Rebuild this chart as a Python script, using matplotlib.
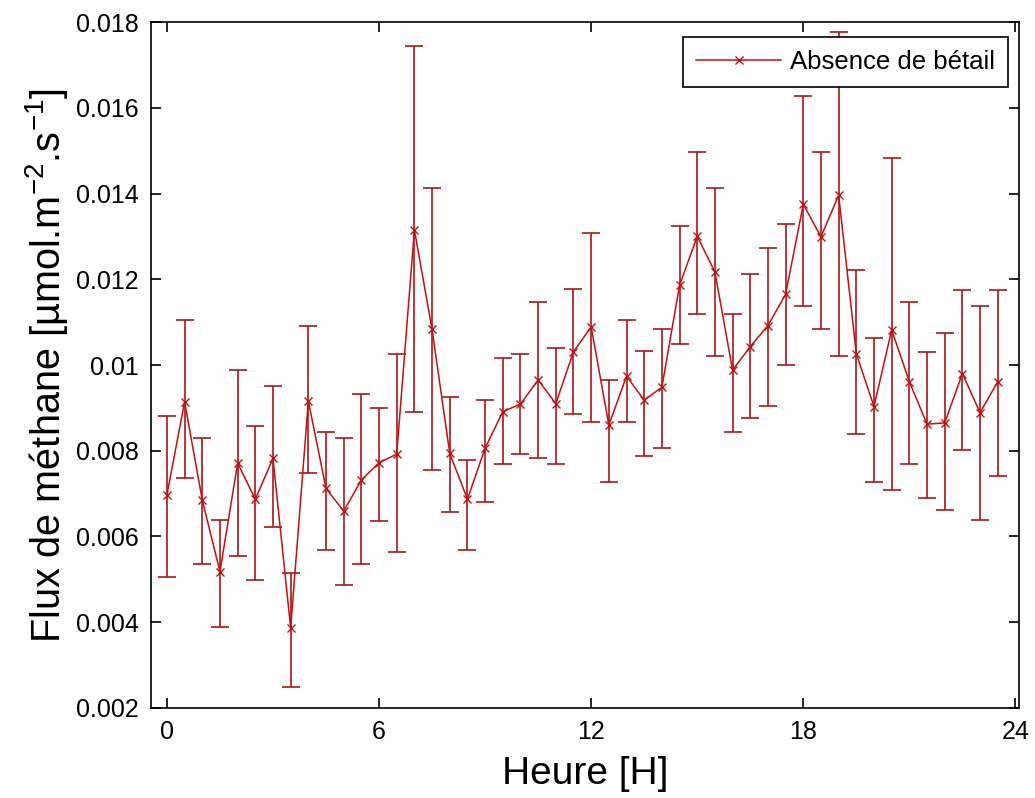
import numpy as np
import matplotlib
matplotlib.use("Agg")
import matplotlib.pyplot as plt
from matplotlib.lines import Line2D

# heures (pas de 30 min)
heures = np.arange(0, 24, 0.5)

# flux moyen de méthane (µmol.m-2.s-1)
flux = [0.00697, 0.00914, 0.00685, 0.00518, 0.00771, 0.00687, 0.00782, 0.00387,
        0.00916, 0.00712, 0.00659, 0.00732, 0.00772, 0.00792, 0.01315, 0.01083,
        0.00794, 0.00687, 0.00806, 0.00891, 0.00909, 0.00965, 0.00910, 0.01031,
        0.01089, 0.00860, 0.00974, 0.00918, 0.00948, 0.01186, 0.01300, 0.01217,
        0.00988, 0.01043, 0.01092, 0.01165, 0.01375, 0.01299, 0.01396, 0.01026,
        0.00903, 0.01082, 0.00961, 0.00862, 0.00865, 0.00980, 0.00889, 0.00961]

# bornes haute / basse des barres d'erreur
haut = [0.00881, 0.01105, 0.00829, 0.00638, 0.00988, 0.00858, 0.00951, 0.00516,
        0.01090, 0.00843, 0.00829, 0.00932, 0.00900, 0.01026, 0.01744, 0.01412,
        0.00926, 0.00778, 0.00918, 0.01016, 0.01026, 0.01146, 0.01039, 0.01178,
        0.01309, 0.00965, 0.01105, 0.01033, 0.01085, 0.01324, 0.01496, 0.01412,
        0.01119, 0.01212, 0.01272, 0.01329, 0.01627, 0.01496, 0.01776, 0.01221,
        0.01062, 0.01483, 0.01146, 0.01031, 0.01074, 0.01175, 0.01138, 0.01175]
bas = [0.00506, 0.00736, 0.00535, 0.00390, 0.00554, 0.00498, 0.00623, 0.00250,
       0.00747, 0.00568, 0.00488, 0.00535, 0.00637, 0.00563, 0.00890, 0.00755,
       0.00656, 0.00568, 0.00681, 0.00768, 0.00792, 0.00782, 0.00768, 0.00885,
       0.00866, 0.00726, 0.00866, 0.00788, 0.00806, 0.01049, 0.01119, 0.01021,
       0.00843, 0.00877, 0.00904, 0.01001, 0.01137, 0.01085, 0.01021, 0.00839,
       0.00728, 0.00708, 0.00769, 0.00689, 0.00662, 0.00802, 0.00638, 0.00741]

flux = np.array(flux)
err = [flux - np.array(bas), np.array(haut) - flux]

plt.rcParams['font.family'] = ['Liberation Sans', 'DejaVu Sans']
plt.rcParams['mathtext.default'] = 'regular'

fig = plt.figure(figsize=(10.35, 7.98), dpi=100)
ax = fig.add_axes([0.1459, 0.1128, 0.8386, 0.8596])

rouge = '#c41010'
ax.errorbar(heures, flux, yerr=err, color=rouge, ecolor='#a81818', elinewidth=1.2,
            capsize=6.5, capthick=1.2, marker='x', markersize=6, linewidth=1.1)

ax.set_xlim(-0.45, 24.1)
ax.set_ylim(0.002, 0.018)
ax.set_xticks([0, 6, 12, 18, 24])
yt = np.arange(0.002, 0.0181, 0.002)
ax.set_yticks(yt)
ax.set_yticklabels(['%g' % round(v, 3) for v in yt])

ax.tick_params(direction='in', length=7, width=1.2, labelsize=18,
               top=True, right=True)
ax.tick_params(axis='x', pad=9)
ax.tick_params(axis='y', pad=9)
for s in ax.spines.values():
    s.set_linewidth(1.2)

ax.set_xlabel('Heure [H]', fontsize=28, labelpad=8)
ax.set_ylabel('Flux de méthane [µmol.m$^{-2}$.s$^{-1}$]', fontsize=28.5, labelpad=4)

h = Line2D([], [], color=rouge, marker='x', markersize=6, linewidth=1.1)
leg = ax.legend([h], ['Absence de bétail'], loc='upper right',
                bbox_to_anchor=(1 - 11 / 868, 1 - 15 / 686), borderaxespad=0,
                fontsize=18.5, handlelength=3.3, handletextpad=0.35,
                fancybox=False, edgecolor='black', framealpha=1, borderpad=0.5)
leg.get_frame().set_linewidth(1.2)

fig.savefig('out.png', dpi=100)
